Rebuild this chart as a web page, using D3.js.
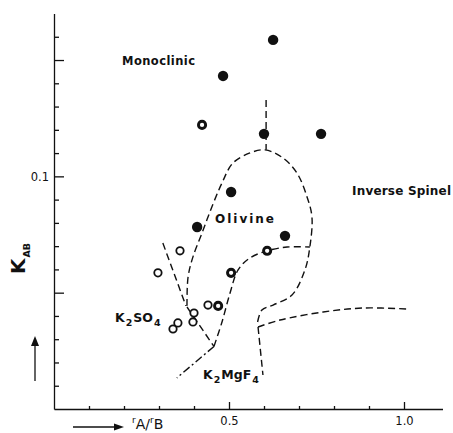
<!DOCTYPE html>
<html>
<head>
<meta charset="utf-8">
<script src="https://cdn.jsdelivr.net/npm/d3@7"></script>
<style>
  body { margin: 0; background: #fff; }
  text { font-family: "DejaVu Sans", sans-serif; fill: #111; }
</style>
</head>
<body>
<div id="chart"></div>
<script>
// measured points, x = rA/rB, y = K_AB
var solidRatio = [0.626, 0.483, 0.600, 0.763, 0.506, 0.409, 0.660];
var solidK     = [1.49, 0.73, 0.232, 0.232, 0.0734, 0.0367, 0.0308];
var ringRatio  = [0.423, 0.609, 0.506, 0.469];
var ringK      = [0.277, 0.0229, 0.0148, 0.0077];
var openRatio  = [0.360, 0.297, 0.440, 0.400, 0.397, 0.354, 0.340];
var openK      = [0.0229, 0.0148, 0.00783, 0.00668, 0.0056, 0.0055, 0.00487];

// phase boundaries [rA/rB, K]
var monoclinicEdge = [[0.606, 0.454], [0.606, 0.169]];
var olivineEdge = [[0.380, 0.0077], [0.383, 0.0136], [0.397, 0.0203], [0.423, 0.0326],
  [0.451, 0.0546], [0.480, 0.0877], [0.511, 0.130], [0.560, 0.159], [0.603, 0.169],
  [0.654, 0.144], [0.694, 0.107], [0.723, 0.0665], [0.737, 0.0448], [0.731, 0.0247],
  [0.717, 0.0157], [0.680, 0.00955], [0.626, 0.00783], [0.594, 0.00709], [0.580, 0.00527]];
var sulfateEdge = [[0.311, 0.0267], [0.377, 0.00770]];
var sulfateFoot = [[0.380, 0.00753], [0.457, 0.00345]];
var innerEdge = [[0.457, 0.00345], [0.480, 0.0056], [0.503, 0.00993], [0.526, 0.0157],
  [0.560, 0.0199], [0.609, 0.0229], [0.666, 0.0247], [0.731, 0.0247]];
var fluorideEdge = [[0.583, 0.00507], [0.597, 0.00196]];
var spinelEdge = [[0.583, 0.00507], [0.646, 0.00582], [0.769, 0.00682], [0.883, 0.00738], [1.009, 0.00724]];
var lowerEdge = [[0.457, 0.00345], [0.351, 0.00185]];

var xMinor = [0.1, 0.2, 0.3, 0.4, 0.6, 0.7, 0.8, 0.9];
var xMajor = [0.5, 1.0];
var yMajor = [0.01, 0.1, 1];

var svg = d3.select("#chart").append("svg")
    .attr("width", 453)
    .attr("height", 433);

var x = d3.scaleLinear().domain([0, 1.11]).range([54, 442.5]);
var y = d3.scaleLog().domain([0.001, Math.pow(10, 0.4)]).range([409, 13.5]);

// minor y ticks every 0.2 decade
var yMinor = d3.range(-14, 2).filter(function(i) { return i % 5 != 0; })
    .map(function(i) { return Math.pow(10, i / 5); });

// x axis, ticks point inward
svg.append("g")
    .attr("transform", "translate(0,409)")
    .call(d3.axisBottom(x).tickValues(xMinor).tickSize(-3).tickSizeOuter(0).tickFormat(""));
svg.append("g")
    .attr("transform", "translate(0,409)")
    .call(d3.axisBottom(x).tickValues(xMajor).tickSize(-7).tickSizeOuter(0)
      .tickPadding(8).tickFormat(d3.format(".1f")))
    .call(function(g) { g.select(".domain").remove(); })
    .selectAll("text").attr("font-size", "11.5px");

// y axis
svg.append("g")
    .attr("transform", "translate(54,0)")
    .call(d3.axisLeft(y).tickValues(yMinor).tickSize(-5).tickSizeOuter(0).tickFormat(""));
svg.append("g")
    .attr("transform", "translate(54,0)")
    .call(d3.axisLeft(y).tickValues(yMajor).tickSize(-10).tickSizeOuter(0)
      .tickPadding(5).tickFormat(function(d) { return d == 0.1 ? "0.1" : ""; }))
    .call(function(g) { g.select(".domain").remove(); })
    .selectAll("text").attr("font-size", "11.5px");

svg.selectAll(".domain, .tick line").attr("stroke", "#111").attr("stroke-width", 1.3);
svg.selectAll(".tick text").attr("fill", "#111").attr("font-family", "DejaVu Sans");

// boundaries
var smooth = d3.line()
    .x(function(d) { return x(d[0]); })
    .y(function(d) { return y(d[1]); })
    .curve(d3.curveCatmullRom.alpha(0.5));

[monoclinicEdge, olivineEdge, sulfateEdge, sulfateFoot, innerEdge, fluorideEdge, spinelEdge]
  .forEach(function(pts) {
    svg.append("path")
        .attr("d", smooth(pts))
        .attr("fill", "none")
        .attr("stroke", "#111")
        .attr("stroke-width", 1.4)
        .attr("stroke-dasharray", "7,4");
  });

svg.append("path")
    .attr("d", smooth(lowerEdge))
    .attr("fill", "none")
    .attr("stroke", "#111")
    .attr("stroke-width", 1.4)
    .attr("stroke-dasharray", "8,3,2,3");

// points
svg.selectAll(".solid")
    .data(solidRatio)
    .enter().append("circle")
    .attr("class", "solid")
    .attr("cx", function(d) { return x(d); })
    .attr("cy", function(d, i) { return y(solidK[i]); })
    .attr("r", 5.2)
    .attr("fill", "#111");

svg.selectAll(".ring")
    .data(ringRatio)
    .enter().append("circle")
    .attr("class", "ring")
    .attr("cx", function(d) { return x(d); })
    .attr("cy", function(d, i) { return y(ringK[i]); })
    .attr("r", 3.6)
    .attr("fill", "#fff")
    .attr("stroke", "#111")
    .attr("stroke-width", 2.9);

svg.selectAll(".open")
    .data(openRatio)
    .enter().append("circle")
    .attr("class", "open")
    .attr("cx", function(d) { return x(d); })
    .attr("cy", function(d, i) { return y(openK[i]); })
    .attr("r", 3.7)
    .attr("fill", "#fff")
    .attr("stroke", "#111")
    .attr("stroke-width", 1.8);

// region labels
function label(txt, px, py, size, len) {
  return svg.append("text")
      .attr("x", px).attr("y", py)
      .attr("font-size", size + "px")
      .attr("font-weight", "bold")
      .attr("textLength", len)
      .attr("lengthAdjust", "spacing")
      .text(txt);
}
label("Monoclinic", 122, 65, 11.5, 73);
label("Inverse Spinel", 352, 195, 12, 99);
label("Olivine", 215, 223, 12, 59);

var k2so4 = svg.append("text").attr("x", 115).attr("y", 322)
    .attr("font-size", "12.5px").attr("font-weight", "bold");
k2so4.append("tspan").text("K");
k2so4.append("tspan").attr("dy", 4).attr("dx", 1).attr("font-size", "9.5px").text("2");
k2so4.append("tspan").attr("dy", -4).attr("dx", 1).text("SO");
k2so4.append("tspan").attr("dy", 4).attr("dx", 1).attr("font-size", "9.5px").text("4");

var k2mgf4 = svg.append("text").attr("x", 203).attr("y", 379)
    .attr("font-size", "12.5px").attr("font-weight", "bold");
k2mgf4.append("tspan").text("K");
k2mgf4.append("tspan").attr("dy", 4).attr("dx", 1).attr("font-size", "9.5px").text("2");
k2mgf4.append("tspan").attr("dy", -4).attr("dx", 1).text("MgF");
k2mgf4.append("tspan").attr("dy", 4).attr("dx", 1).attr("font-size", "9.5px").text("4");

// axis titles
var yTitle = svg.append("text")
    .attr("transform", "translate(25,274) rotate(-90)")
    .attr("font-weight", "bold");
yTitle.append("tspan").attr("font-size", "20px").text("K");
yTitle.append("tspan").attr("font-size", "9.5px").attr("dy", 5).attr("dx", 1).text("AB");

var xTitle = svg.append("text").attr("x", 132).attr("y", 429).attr("font-size", "14px");
xTitle.append("tspan").attr("font-size", "9px").attr("dy", -6).text("r");
xTitle.append("tspan").attr("dy", 6).text("A/");
xTitle.append("tspan").attr("font-size", "9px").attr("dy", -6).text("r");
xTitle.append("tspan").attr("dy", 6).text("B");

// arrows
svg.append("line").attr("x1", 73).attr("y1", 427).attr("x2", 116).attr("y2", 427)
    .attr("stroke", "#111").attr("stroke-width", 1.3);
svg.append("path").attr("d", "M114,423.5L124,427L114,430.5Z").attr("fill", "#111");
svg.append("line").attr("x1", 35).attr("y1", 381).attr("x2", 35).attr("y2", 344)
    .attr("stroke", "#111").attr("stroke-width", 1.3);
svg.append("path").attr("d", "M31,346L35,336L39,346Z").attr("fill", "#111");
</script>
</body>
</html>
